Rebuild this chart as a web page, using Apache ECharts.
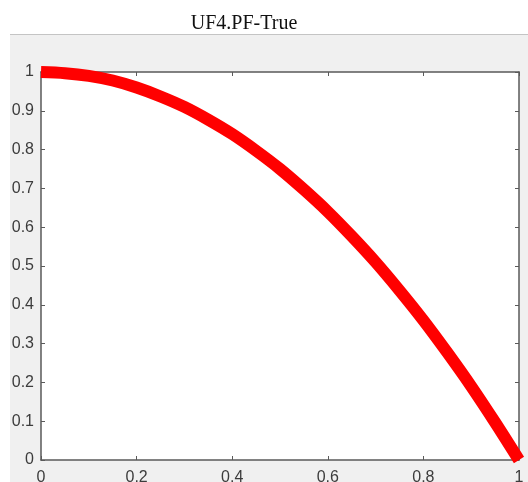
<!DOCTYPE html>
<html>
<head>
<meta charset="utf-8">
<script src="https://cdn.jsdelivr.net/npm/echarts@6/dist/echarts.min.js"></script>
<style>
  html, body { margin: 0; padding: 0; background: #ffffff; }
  #chart { width: 528px; height: 482px; }
</style>
</head>
<body>
<div id="chart"></div>
<script>
// True Pareto front of UF4, sampled along f1
const f1 = [0, 0.05, 0.10, 0.15, 0.20, 0.25, 0.30, 0.35, 0.40, 0.45, 0.50,
            0.55, 0.60, 0.65, 0.70, 0.75, 0.80, 0.85, 0.90, 0.95, 1.00];
const f2 = [1.000, 0.997, 0.990, 0.978, 0.960, 0.937, 0.910, 0.877, 0.840, 0.797, 0.750,
            0.697, 0.640, 0.577, 0.510, 0.437, 0.360, 0.277, 0.190, 0.097, 0.000];
const xTicks = [0, 0.2, 0.4, 0.6, 0.8, 1];
const yTicks = [0, 0.1, 0.2, 0.3, 0.4, 0.5, 0.6, 0.7, 0.8, 0.9, 1];
const titleText = 'UF4.PF-True';

const axisColor = '#5a5a5a';
const labelColor = '#3c3c3c';
const fmt = v => (Math.abs(v) < 1e-9 ? '0' : String(+v.toFixed(1)));

const chart = echarts.init(document.getElementById('chart'), null, { renderer: 'canvas' });

const baseAxis = {
  type: 'value', min: 0, max: 1, interval: 0.1,
  axisLine: { show: true, onZero: false, lineStyle: { color: axisColor, width: 1.5 } },
  axisTick: { show: true, inside: true, length: 4, lineStyle: { color: axisColor, width: 1 } },
  splitLine: { show: false }
};

const labelStyle = { fontFamily: 'Liberation Sans', fontSize: 16, color: labelColor };

chart.setOption({
  animation: false,
  backgroundColor: '#ffffff',
  graphic: [
    { type: 'rect', z: -10, shape: { x: 10, y: 34, width: 518, height: 448 },
      style: { fill: '#f0f0f0' } },
    { type: 'line', z: -9, shape: { x1: 10, y1: 34.5, x2: 528, y2: 34.5 },
      style: { stroke: '#c4c4c4', lineWidth: 1 } }
  ],
  title: {
    text: titleText, left: 239, top: 9, textAlign: 'center',
    textStyle: { fontFamily: 'Liberation Serif', fontSize: 20, fontWeight: 'normal', color: '#111111' }
  },
  grid: {
    left: 41, right: 9, top: 72, bottom: 22, containLabel: false,
    outerBoundsMode: 'none',
    show: true, backgroundColor: '#ffffff', borderWidth: 0
  },
  xAxis: [
    Object.assign({}, baseAxis, {
      position: 'bottom', interval: 0.2,
      axisLabel: Object.assign({ show: true, margin: 10,
        formatter: v => (xTicks.some(t => Math.abs(t - v) < 1e-9) ? fmt(v) : '') }, labelStyle)
    }),
    Object.assign({}, baseAxis, { position: 'top', interval: 0.2, axisLabel: { show: false } })
  ],
  yAxis: [
    Object.assign({}, baseAxis, {
      position: 'left',
      axisLabel: Object.assign({ show: true, margin: 7,
        formatter: v => (yTicks.some(t => Math.abs(t - v) < 1e-9) ? fmt(v) : '') }, labelStyle)
    }),
    Object.assign({}, baseAxis, { position: 'right', axisLabel: { show: false } })
  ],
  series: [{
    type: 'line',
    xAxisIndex: 0, yAxisIndex: 0,
    data: f1.map((x, i) => [x, f2[i]]),
    smooth: 0.3,
    showSymbol: false,
    clip: false,
    lineStyle: { color: '#ff0000', width: 12, cap: 'butt', join: 'round' },
    z: 5
  }]
});
</script>
</body>
</html>
